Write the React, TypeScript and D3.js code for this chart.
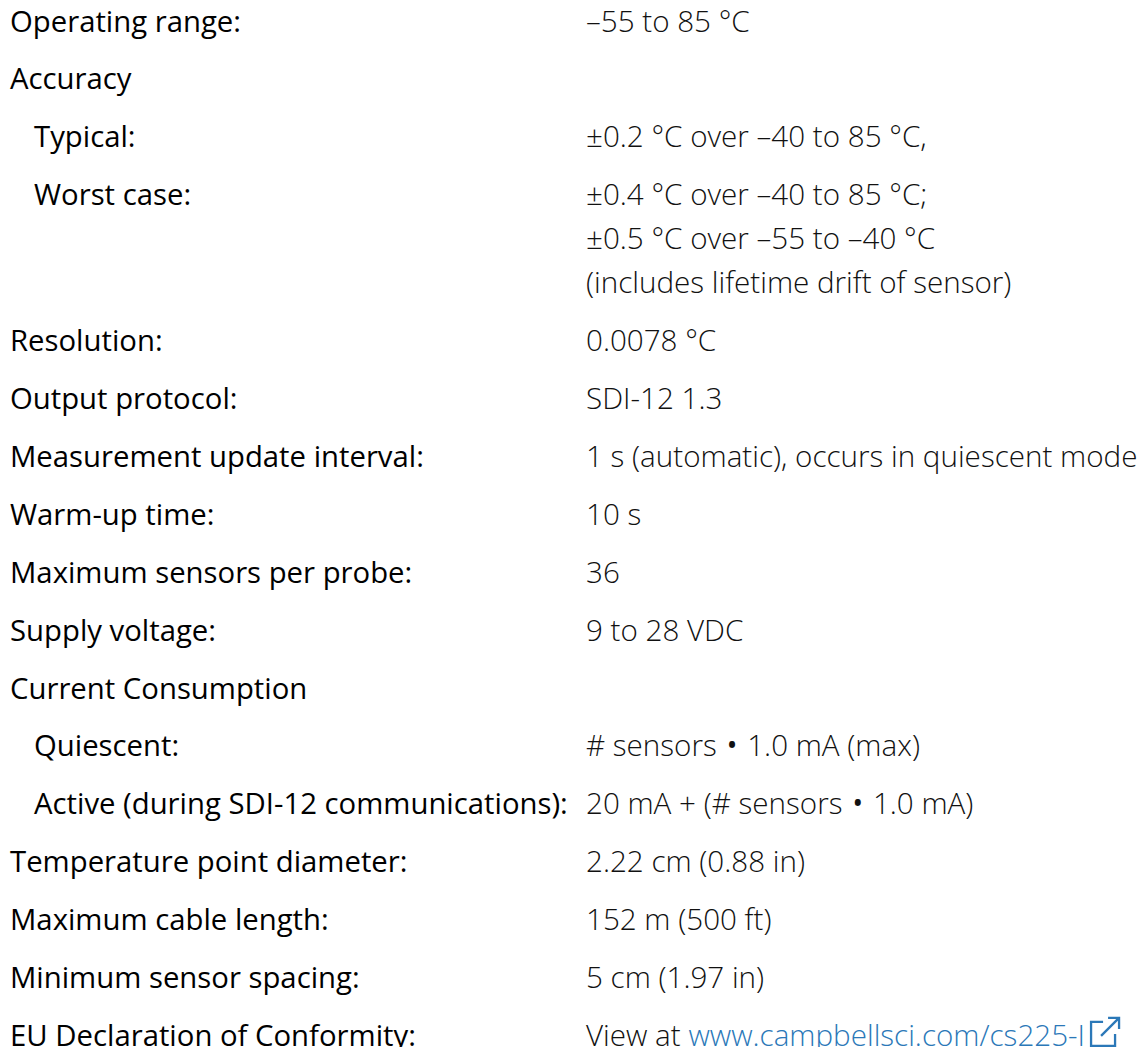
import React, { useEffect, useRef } from 'react';
import * as d3 from 'd3';

// spec rows: label, value lines, indent level
const labels = [
  'Operating range:',
  'Accuracy',
  'Typical:',
  'Worst case:',
  'Resolution:',
  'Output protocol:',
  'Measurement update interval:',
  'Warm-up time:',
  'Maximum sensors per probe:',
  'Supply voltage:',
  'Current Consumption',
  'Quiescent:',
  'Active (during SDI-12 communications):',
  'Temperature point diameter:',
  'Maximum cable length:',
  'Minimum sensor spacing:',
  'EU Declaration of Conformity:',
];

const values: string[][] = [
  ['\u201355 to 85 \u00B0C'],
  [],
  ['\u00B10.2 \u00B0C over \u201340 to 85 \u00B0C,'],
  ['\u00B10.4 \u00B0C over \u201340 to 85 \u00B0C;', '\u00B10.5 \u00B0C over \u201355 to \u201340 \u00B0C', '(includes lifetime drift of sensor)'],
  ['0.0078 \u00B0C'],
  ['SDI-12 1.3'],
  ['1 s (automatic), occurs in quiescent mode'],
  ['10 s'],
  ['36'],
  ['9 to 28 VDC'],
  [],
  ['# sensors \u2022 1.0 mA (max)'],
  ['20 mA + (# sensors \u2022 1.0 mA)'],
  ['2.22 cm (0.88 in)'],
  ['152 m (500 ft)'],
  ['5 cm (1.97 in)'],
  ['View at '],
];

const indents = [0, 0, 1, 1, 0, 0, 0, 0, 0, 0, 0, 1, 1, 0, 0, 0, 0];
const linkText = 'www.campbellsci.com/cs225-I';

const W = 1145;
const H = 1055;
const FONT = '"Open Sans", "Noto Sans", sans-serif';

export default function App() {
  const ref = useRef<SVGSVGElement>(null);

  useEffect(() => {
    const svg = d3.select(ref.current);
    svg.selectAll('*').remove();

    const rowGap = 57.9;
    const lineGap = 44;
    // cumulative row tops
    const rowY: number[] = [];
    let y = 0;
    labels.forEach((_, i) => {
      rowY.push(y);
      const extra = Math.max(0, values[i].length - 1);
      y += rowGap + extra * lineGap;
    });
    const base = 31.5;
    const xLabel = d3.scaleOrdinal<number, number>().domain([0, 1]).range([10, 34]);
    const xValue = 586;

    const g = svg.append('g').style('font-family', FONT);

    labels.forEach((lab, i) => {
      const by = base + rowY[i];
      g.append('text')
        .attr('x', xLabel(indents[i]))
        .attr('y', by)
        .attr('fill', '#000')
        .style('font-size', '29.3px')
        .style('font-weight', 500)
        .text(lab);
      values[i].forEach((v, j) => {
        const t = g.append('text')
          .attr('x', xValue)
          .attr('y', by + j * lineGap)
          .attr('fill', '#111')
          .style('font-size', '29.6px')
          .style('font-weight', 300);
        const parts = v.split('\u2022');
        parts.forEach((p, k) => {
          if (k > 0) t.append('tspan').style('font-size', '40px').attr('dy', 3).text('\u2022');
          t.append('tspan').attr('dy', k > 0 ? -3 : 0).text(p);
        });
        if (i === labels.length - 1) {
          t.append('tspan').attr('fill', '#2b78b8').text(linkText);
          const w = (t.node() as SVGTextElement).getComputedTextLength();
          const ix = xValue + w + 5;
          // external link icon
          const icon = g.append('g').attr('transform', `translate(${ix},${by - 25})`)
            .attr('fill', 'none').attr('stroke', '#2b78b8').attr('stroke-width', 2.3);
          icon.append('path').attr('d', 'M13,1 H1 V25 H25 V13');
          icon.append('path').attr('d', 'M11,15 L29,-3 M18,-3 H29 V8');
        }
      });
    });
  }, []);

  return <svg ref={ref} width={W} height={H} style={{ display: 'block', margin: '-8px', background: '#fff' }} />;
}
